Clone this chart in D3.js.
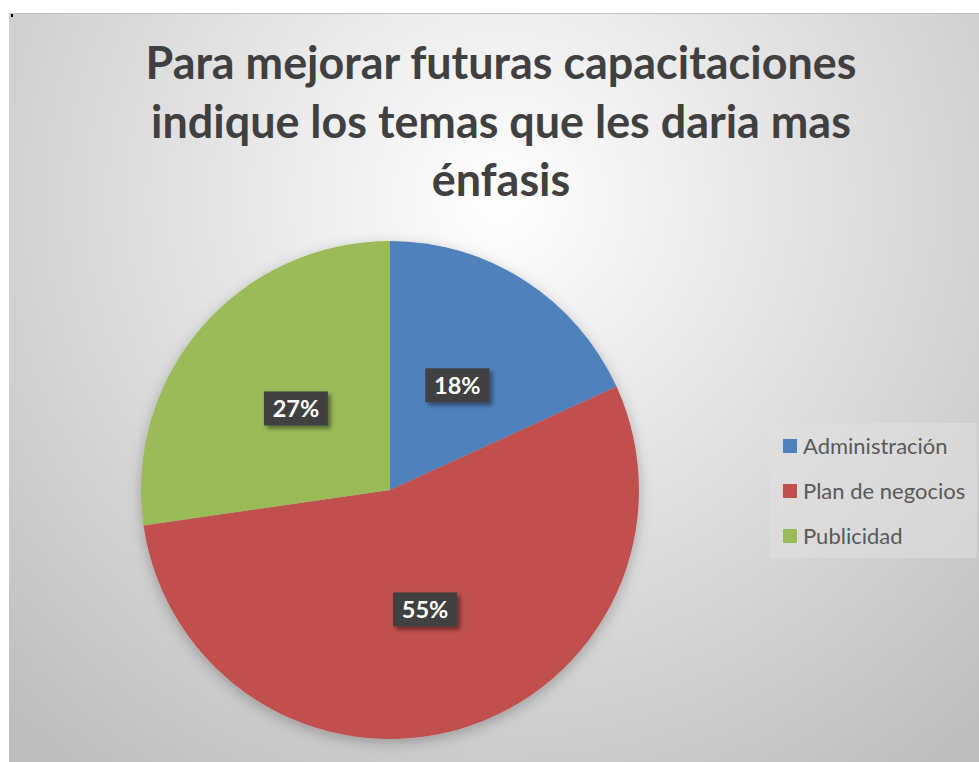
<!DOCTYPE html>
<html>
<head>
<meta charset="utf-8">
<script src="https://cdn.jsdelivr.net/npm/d3@7"></script>
<style>
  html, body { margin: 0; padding: 0; background: #fff; }
  svg { display: block; }
</style>
</head>
<body>
<div id="chart"></div>
<script>
// data (2, 6, 3 answers -> 18%, 55%, 27%)
const categories = ['Administración', 'Plan de negocios', 'Publicidad']
const values = [2, 6, 3]
const colors = ['#4F81BD', '#C0504D', '#9BBB59']
const titleLines = ['Para mejorar futuras capacitaciones', 'indique los temas que les daria mas', 'énfasis']

const W = 979, H = 762
const cx = 390, cy = 490, r = 249

const svg = d3.select('#chart').append('svg')
  .attr('width', W).attr('height', H)
  .style('font-family', 'Lato, "Open Sans", sans-serif')

const defs = svg.append('defs')

// radial background like the office chart style
const bg = defs.append('radialGradient').attr('id', 'bg')
  .attr('gradientUnits', 'userSpaceOnUse')
  .attr('cx', 500).attr('cy', 200).attr('r', 720)
bg.append('stop').attr('offset', '0%').attr('stop-color', '#ffffff')
bg.append('stop').attr('offset', '100%').attr('stop-color', '#bdbdbd')

const pieShadow = defs.append('filter').attr('id', 'pieShadow')
  .attr('x', '-20%').attr('y', '-20%').attr('width', '140%').attr('height', '140%')
pieShadow.append('feDropShadow').attr('dx', 0).attr('dy', 4).attr('stdDeviation', 7)
  .attr('flood-color', '#000').attr('flood-opacity', 0.25)

const boxShadow = defs.append('filter').attr('id', 'boxShadow')
  .attr('x', '-30%').attr('y', '-30%').attr('width', '170%').attr('height', '170%')
boxShadow.append('feDropShadow').attr('dx', 3).attr('dy', 3).attr('stdDeviation', 2)
  .attr('flood-color', '#000').attr('flood-opacity', 0.45)

// chart area
svg.append('rect').attr('x', 9).attr('y', 13).attr('width', W - 9).attr('height', H - 13)
  .attr('fill', 'url(#bg)')
svg.append('line').attr('x1', 9).attr('x2', W).attr('y1', 13.5).attr('y2', 13.5)
  .attr('stroke', '#bfbfbf').attr('stroke-width', 1)
svg.append('rect').attr('x', 11).attr('y', 14).attr('width', 2).attr('height', 3).attr('fill', '#000')

// title, sized so the first line spans the same width as the original
const title = svg.append('g')
const tl = title.selectAll('text').data(titleLines).join('text')
  .attr('x', 501)
  .attr('y', (d, i) => 79 + i * 58.5)
  .attr('text-anchor', 'middle')
  .attr('font-weight', 'bold')
  .attr('fill', '#404040')
  .attr('font-size', 44)
  .text(d => d)
const w0 = tl.nodes()[0].getComputedTextLength()
tl.attr('font-size', 44 * 711 / w0)

// pie
const pie = d3.pie().sort(null).value(d => d)
const arcs = pie(values)
const arc = d3.arc().innerRadius(0).outerRadius(r)
const total = d3.sum(values)

const g = svg.append('g').attr('transform', `translate(${cx},${cy})`)
g.append('g').attr('filter', 'url(#pieShadow)')
  .selectAll('path').data(arcs).join('path')
  .attr('d', arc)
  .attr('fill', (d, i) => colors[i])

// labels in dark boxes
const lab = g.selectAll('g.lab').data(arcs).join('g').attr('class', 'lab')
  .attr('transform', d => `translate(${arc.centroid(d)})`)
lab.append('rect')
  .attr('x', -32).attr('y', -17).attr('width', 64).attr('height', 34)
  .attr('fill', '#404040')
  .attr('filter', 'url(#boxShadow)')
lab.append('text')
  .attr('text-anchor', 'middle').attr('dy', '0.36em')
  .attr('fill', '#fff').attr('font-weight', 'bold').attr('font-size', 23.5)
  .text(d => Math.round(d.value / total * 100) + '%')

// legend
const legend = svg.append('g').attr('transform', 'translate(770,423)')
legend.append('rect').attr('width', 207).attr('height', 135).attr('fill', '#e0e0e0').attr('fill-opacity', 0.6)
const li = legend.selectAll('g.li').data(categories).join('g').attr('class', 'li')
  .attr('transform', (d, i) => `translate(13,${23 + i * 45})`)
li.append('rect').attr('x', 0).attr('y', -7).attr('width', 14).attr('height', 14)
  .attr('fill', (d, i) => colors[i])
li.append('text').attr('x', 20).attr('dy', '0.36em')
  .attr('font-size', 22).attr('fill', '#595959')
  .text(d => d)
</script>
</body>
</html>
